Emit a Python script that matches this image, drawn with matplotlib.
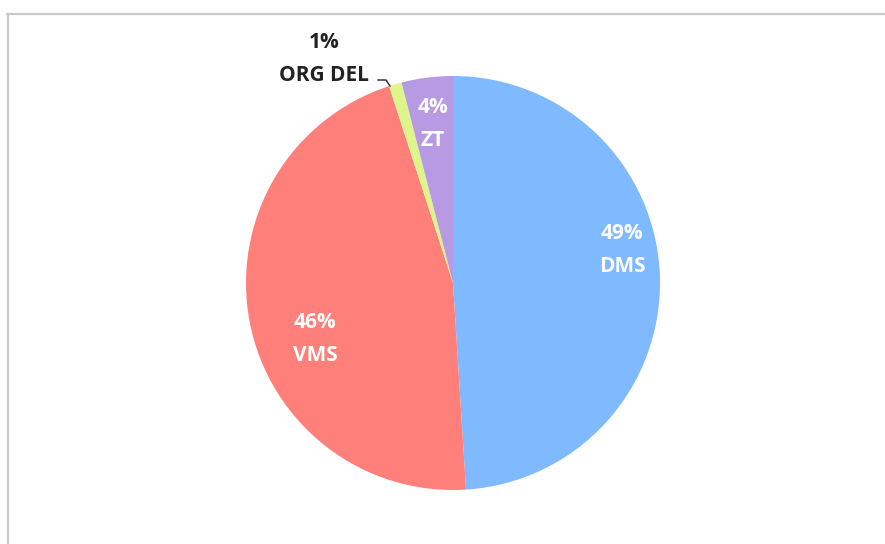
import matplotlib
matplotlib.use("Agg")
import matplotlib.pyplot as plt
from matplotlib.lines import Line2D

# data
labels = ["DMS", "VMS", "ORG DEL", "ZT"]
values = [49, 46, 1, 4]
colors = ["#7FB9FF", "#FF7F7A", "#DDF58B", "#B899E3"]

W, H = 885, 544
cx, cy, R = 453, 283, 207

fig = plt.figure(figsize=(W / 100, H / 100), dpi=100)
fig.patch.set_facecolor("white")

# frame lines (top and left only visible)
fig.add_artist(Line2D([7 / W, 1], [1 - 14 / H, 1 - 14 / H], color="#C9C9C9", lw=1.6))
fig.add_artist(Line2D([8 / W, 8 / W], [0, 1 - 14 / H], color="#C9C9C9", lw=1.6))

ax = fig.add_axes([(cx - R) / W, (H - cy - R) / H, 2 * R / W, 2 * R / H])
ax.pie(values, colors=colors, startangle=90, counterclock=False, radius=1,
       wedgeprops=dict(linewidth=0))
ax.set_xlim(-1, 1)
ax.set_ylim(-1, 1)
ax.axis("off")


def px(x, y):
    return (x - cx) / R, (cy - y) / R


# label positions in pixels (layout only)
pos = {"DMS": (622, 250), "VMS": (315, 339), "ORG DEL": (324, 59), "ZT": (433, 124)}
font = ["Open Sans", "DejaVu Sans"]
for lab, v in zip(labels, values):
    color = "#222222" if lab == "ORG DEL" else "white"
    x, y = px(*pos[lab])
    ax.text(x, y, f"{v}%\n{lab}", ha="center", va="center", fontsize=15,
            fontweight="bold", color=color, family=font, linespacing=1.75,
            clip_on=False)

# leader line for ORG DEL
lx, ly = zip(px(378, 80), px(386, 80), px(390, 86))
ax.plot(lx, ly, color="#222222", lw=1, clip_on=False)

fig.savefig("out.png", dpi=100)
